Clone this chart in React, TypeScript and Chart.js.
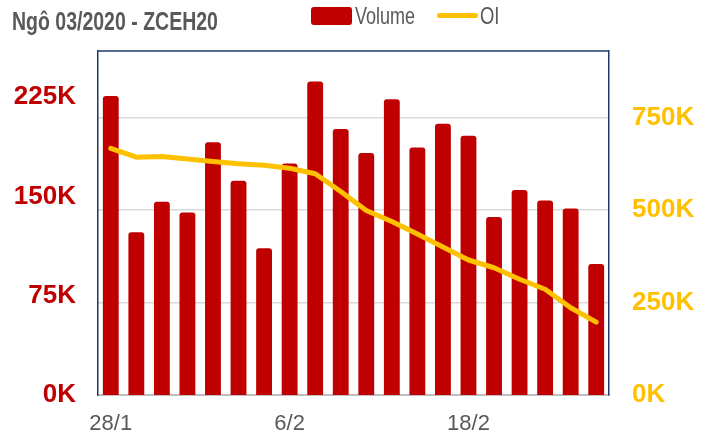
import React, { useEffect, useRef } from "react";
import { Chart, registerables } from "chart.js";

Chart.register(...registerables);

const categories: string[] = [
  "28/1", "29/1", "30/1", "31/1", "3/2", "4/2", "5/2", "6/2", "7/2", "10/2",
  "11/2", "12/2", "13/2", "14/2", "18/2", "19/2", "20/2", "21/2", "24/2", "25/2",
];

const volumeValues: number[] = [
  226000, 123000, 146000, 138000, 191000, 162000, 111000, 175000, 237000, 201000,
  183000, 223500, 187000, 205000, 196000, 134500, 155000, 147000, 141000, 99000,
];

const oiValues: number[] = [
  667000, 643000, 645000, 638000, 631000, 625000, 621000, 613000, 598000, 550000,
  499000, 469000, 435000, 400000, 365000, 344000, 313000, 286000, 236000, 197000,
];

const volumeTicks: number[] = [0, 75000, 150000, 225000];
const oiTicks: number[] = [0, 250000, 500000, 750000];

const SANS = "'Liberation Sans', Arial, sans-serif";

const topBorder = {
  id: "topBorder",
  afterDraw(chart: any) {
    const { ctx, chartArea } = chart;
    ctx.save();
    ctx.strokeStyle = "#203864";
    ctx.lineWidth = 1.5;
    ctx.beginPath();
    ctx.moveTo(chartArea.left, chartArea.top);
    ctx.lineTo(chartArea.right, chartArea.top);
    ctx.stroke();
    ctx.restore();
  },
};

const fmtK = (v: any) => `${Math.round(Number(v) / 1000)}K`;

export default function App() {
  const canvasRef = useRef<HTMLCanvasElement | null>(null);

  useEffect(() => {
    document.body.style.margin = "0";
    const canvas = canvasRef.current;
    if (!canvas) return;
    const chart = new Chart(canvas, {
      type: "bar",
      data: {
        labels: categories,
        datasets: [
          {
            type: "line",
            label: "OI",
            data: oiValues,
            yAxisID: "y1",
            borderColor: "#FFC000",
            backgroundColor: "#FFC000",
            borderWidth: 5,
            pointRadius: 0,
            tension: 0,
            borderCapStyle: "round",
            borderJoinStyle: "round",
            order: 0,
          } as any,
          {
            type: "bar",
            label: "Volume",
            data: volumeValues,
            yAxisID: "y",
            backgroundColor: "#C00000",
            borderRadius: { topLeft: 3, topRight: 3, bottomLeft: 0, bottomRight: 0 },
            borderSkipped: "bottom",
            barPercentage: 0.62,
            categoryPercentage: 1.0,
            order: 1,
          } as any,
        ],
      },
      options: {
        animation: false,
        responsive: true,
        maintainAspectRatio: false,
        layout: { padding: { top: 51, left: 0, right: 0, bottom: 0 } },
        plugins: {
          legend: { display: false },
          title: { display: false },
          tooltip: { enabled: false },
        },
        scales: {
          x: {
            grid: { display: false, drawTicks: false },
            border: { display: true, color: "#BFBFBF", width: 2 },
            ticks: {
              autoSkip: false,
              maxRotation: 0,
              minRotation: 0,
              padding: 16,
              color: "#595959",
              font: { family: SANS, size: 22 },
              callback: (_v: any, i: number) => (i % 7 === 0 ? categories[i] : ""),
            },
            afterFit: (s: any) => {
              s.height = 42;
            },
          },
          y: {
            position: "left",
            min: 0,
            max: 260000,
            grid: { display: false, drawTicks: false },
            border: { display: true, color: "#203864", width: 1.5 },
            ticks: {
              padding: 22,
              color: "#C00000",
              font: { family: SANS, size: 26, weight: "bold" },
              callback: fmtK,
            },
            afterBuildTicks: (s: any) => {
              s.ticks = volumeTicks.map((v) => ({ value: v }));
            },
            afterFit: (s: any) => {
              s.width = 98;
            },
          },
          y1: {
            position: "right",
            min: 0,
            max: 930000,
            grid: { display: true, drawTicks: false, color: "#D9D9D9", lineWidth: 1.5 },
            border: { display: true, color: "#203864", width: 1.5 },
            ticks: {
              padding: 23,
              color: "#FFC000",
              font: { family: SANS, size: 26, weight: "bold" },
              callback: fmtK,
            },
            afterBuildTicks: (s: any) => {
              s.ticks = oiTicks.map((v) => ({ value: v }));
            },
            afterFit: (s: any) => {
              s.width = 103;
            },
          },
        },
      } as any,
      plugins: [topBorder],
    });
    return () => chart.destroy();
  }, []);

  const textBase: React.CSSProperties = {
    position: "absolute",
    fontFamily: SANS,
    color: "#595959",
    whiteSpace: "nowrap",
    transformOrigin: "left center",
  };

  return (
    <div style={{ position: "absolute", left: 0, top: 0, width: 712, height: 437, background: "#fff" }}>
      <canvas ref={canvasRef} />
      <div
        style={{
          ...textBase,
          left: 12,
          top: 9,
          fontWeight: "bold",
          fontSize: 25,
          lineHeight: "25px",
          transform: "scaleX(0.78)",
        }}
      >
        Ngô 03/2020 - ZCEH20
      </div>
      <div style={{ position: "absolute", left: 311, top: 7, width: 41, height: 18, background: "#C00000", borderRadius: 3 }} />
      <div
        style={{
          ...textBase,
          left: 355,
          top: 4,
          fontSize: 24,
          lineHeight: "24px",
          transform: "scaleX(0.75)",
        }}
      >
        Volume
      </div>
      <div style={{ position: "absolute", left: 437, top: 13, width: 41, height: 5, background: "#FFC000", borderRadius: 3 }} />
      <div
        style={{
          ...textBase,
          left: 480,
          top: 4,
          fontSize: 24,
          lineHeight: "24px",
          transform: "scaleX(0.77)",
        }}
      >
        OI
      </div>
    </div>
  );
}
